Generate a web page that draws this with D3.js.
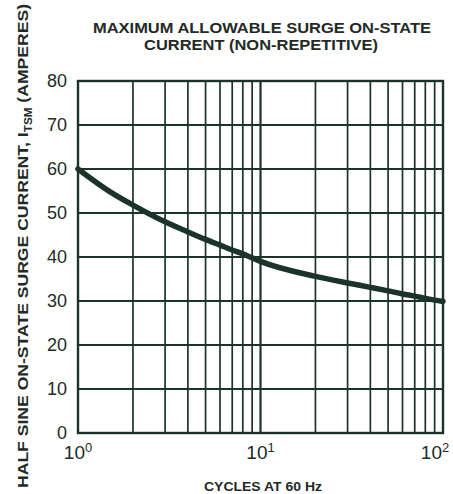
<!DOCTYPE html>
<html>
<head>
<meta charset="utf-8">
<script src="https://cdn.jsdelivr.net/npm/d3@7"></script>
<style>
  html, body { margin: 0; padding: 0; background: #fff; }
  svg { display: block; }
  .cond { font-family: "Liberation Sans Narrow", "Arial Narrow", "Liberation Sans", Arial, sans-serif; font-weight: bold; }
  .tick-lbl { font-family: "Liberation Sans", Arial, Helvetica, sans-serif; }
</style>
</head>
<body>
<script>
// Surge current curve: cycles at 60 Hz vs peak half-sine current (A)
const cycles  = [1, 1.5, 2, 3, 4, 5, 6, 7, 8, 9, 10, 20, 30, 40, 50, 60, 70, 80, 90, 100];
const current = [60, 54.8, 51.8, 48.0, 45.7, 44.0, 42.7, 41.6, 40.7, 39.8, 39.0,
                 35.6, 34.1, 33.1, 32.3, 31.6, 31.1, 30.6, 30.2, 29.9];

const yTicks = [0, 10, 20, 30, 40, 50, 60, 70, 80];
const xDecades = [1, 10, 100];
const xDecadeExp = ["0", "1", "2"];

const W = 453, H = 494;
const plot = { left: 78, right: 443, top: 81, bottom: 433 };
const ink = "#1c3329";
const textInk = "#232a26";

const svg = d3.select("body").append("svg").attr("width", W).attr("height", H);

const x = d3.scaleLog().domain([1, 100]).range([plot.left, plot.right]);
const y = d3.scaleLinear().domain([0, 80]).range([plot.bottom, plot.top]);

// Grid: every integer cycle count within each decade, plus every 10 A
const xGrid = [];
for (let d = 1; d < 100; d *= 10) for (let k = 1; k <= 9; k++) xGrid.push(d * k);
xGrid.push(100);

svg.append("g").selectAll("line").data(xGrid.slice(1, -1)).join("line")
  .attr("x1", d => x(d)).attr("x2", d => x(d))
  .attr("y1", plot.top).attr("y2", plot.bottom)
  .attr("stroke", ink).attr("stroke-width", d => d === 10 ? 2.2 : 1.7);

svg.append("g").selectAll("line").data(yTicks.slice(1, -1)).join("line")
  .attr("x1", plot.left).attr("x2", plot.right)
  .attr("y1", d => y(d)).attr("y2", d => y(d))
  .attr("stroke", ink).attr("stroke-width", 1.8);

// Frame
svg.append("rect")
  .attr("x", plot.left).attr("y", plot.top)
  .attr("width", plot.right - plot.left).attr("height", plot.bottom - plot.top)
  .attr("fill", "none").attr("stroke", ink).attr("stroke-width", 2.4);

// Curve
const line = d3.line().x(d => x(d[0])).y(d => y(d[1])).curve(d3.curveMonotoneX);
svg.append("path")
  .datum(cycles.map((c, i) => [c, current[i]]))
  .attr("d", line)
  .attr("fill", "none").attr("stroke", ink).attr("stroke-width", 5.5)
  .attr("stroke-linecap", "round").attr("stroke-linejoin", "round");

// Y tick labels
svg.append("g").selectAll("text").data(yTicks).join("text")
  .attr("class", "tick-lbl")
  .attr("x", plot.left - 11).attr("y", d => y(d))
  .attr("dy", "0.36em").attr("text-anchor", "end")
  .attr("font-size", 18).attr("fill", textInk)
  .text(d => d);

// X decade labels 10^n
const xl = svg.append("g").selectAll("text").data(xDecades).join("text")
  .attr("class", "tick-lbl")
  .attr("x", (d, i) => x(d) + (i === 2 ? -8 : 0)).attr("y", 459)
  .attr("text-anchor", "middle")
  .attr("font-size", 19).attr("fill", textInk);
xl.append("tspan").text("10");
xl.append("tspan").attr("dy", -7).attr("font-size", 13).text((d, i) => xDecadeExp[i]);

// Title
svg.append("text").attr("class", "cond")
  .attr("x", 262).attr("y", 33).attr("text-anchor", "middle")
  .attr("font-size", 15).attr("fill", textInk)
  .attr("textLength", 338).attr("lengthAdjust", "spacingAndGlyphs")
  .text("MAXIMUM ALLOWABLE SURGE ON-STATE");
svg.append("text").attr("class", "cond")
  .attr("x", 261).attr("y", 50).attr("text-anchor", "middle")
  .attr("font-size", 15).attr("fill", textInk)
  .attr("textLength", 234).attr("lengthAdjust", "spacingAndGlyphs")
  .text("CURRENT (NON-REPETITIVE)");

// X axis title
svg.append("text").attr("class", "cond")
  .attr("x", 263).attr("y", 491).attr("text-anchor", "middle")
  .attr("font-size", 13).attr("fill", textInk)
  .attr("textLength", 118).attr("lengthAdjust", "spacingAndGlyphs")
  .text("CYCLES AT 60 Hz");

// Y axis title (rotated, with subscript), stretched along the full height
const yt = svg.append("text").attr("class", "cond")
  .attr("transform", "translate(28,488) rotate(-90)")
  .attr("font-size", 15).attr("fill", textInk)
  .attr("textLength", 484).attr("lengthAdjust", "spacingAndGlyphs");
yt.append("tspan").text("HALF SINE ON-STATE SURGE CURRENT, I");
yt.append("tspan").attr("dy", 4).attr("font-size", 10).text("TSM");
yt.append("tspan").attr("dy", -4).text(" (AMPERES)");
</script>
</body>
</html>
